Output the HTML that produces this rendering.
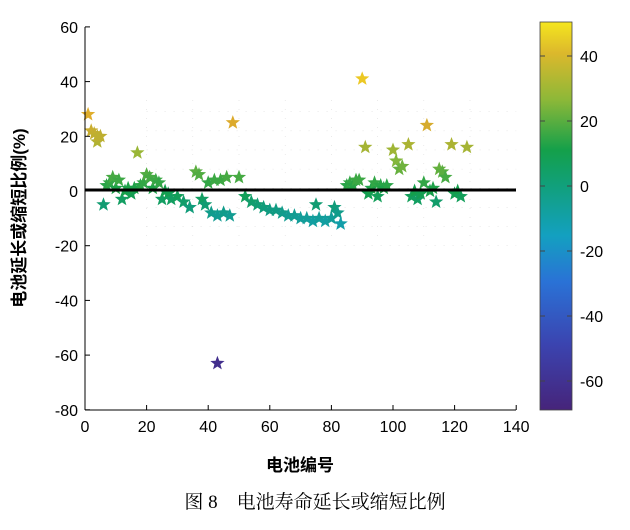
<!DOCTYPE html>
<html><head><meta charset="utf-8"><style>
body{margin:0;background:#fff;width:630px;height:525px;overflow:hidden}
</style></head><body>
<svg id="s" width="630" height="525" xmlns="http://www.w3.org/2000/svg" font-family="Liberation Sans, Noto Sans CJK SC, sans-serif">
<defs>
<linearGradient id="cb" x1="0" y1="1" x2="0" y2="0">
<stop offset="0" stop-color="#46247a"/>
<stop offset="0.17" stop-color="#3b44b0"/>
<stop offset="0.33" stop-color="#2a72d6"/>
<stop offset="0.45" stop-color="#13a0c0"/>
<stop offset="0.58" stop-color="#11a07a"/>
<stop offset="0.67" stop-color="#14a04a"/>
<stop offset="0.8" stop-color="#8db838"/>
<stop offset="0.92" stop-color="#dcb82c"/>
<stop offset="1" stop-color="#f5e61e"/>
</linearGradient>
</defs>
<g id="grid" stroke="#ddd" stroke-width="0.6" stroke-dasharray="1 8"></g>
<g id="stars"></g>
<line x1="85" y1="190" x2="516" y2="190" stroke="#000" stroke-width="3"/>
<line x1="85" y1="27" x2="85" y2="410" stroke="#000" stroke-width="1"/>
<line x1="85" y1="410" x2="516" y2="410" stroke="#000" stroke-width="1"/>
<g id="ticks" font-size="16" fill="#000"></g>
<rect x="540" y="22" width="32" height="388" fill="url(#cb)" stroke="#444" stroke-width="0.8"/>
<g id="cbt" font-size="16"></g>
<text x="300" y="471" font-size="17" text-anchor="middle" font-weight="bold">电池编号</text>
<text transform="translate(25,218) rotate(-90)" font-size="17" text-anchor="middle" font-weight="bold">电池延长或缩短比例(%)</text>
<text x="315" y="508" font-size="19" text-anchor="middle" font-family="Liberation Serif, Noto Serif CJK SC, serif">图 8　电池寿命延长或缩短比例</text>
</svg>
<script>
const X=v=>85+v*3.08, Y=v=>191-v*2.735;
const ns="http://www.w3.org/2000/svg";
function el(t,a,p,txt){const e=document.createElementNS(ns,t);for(const k in a)e.setAttribute(k,a[k]);if(txt!=null)e.textContent=txt;document.getElementById(p).appendChild(e);}
for(let v=0;v<=140;v+=20){el('line',{x1:X(v),y1:410,x2:X(v),y2:405,stroke:'#000'},'ticks');el('text',{x:X(v),y:432,'text-anchor':'middle'},'ticks',v);}
for(let v=-80;v<=60;v+=20){el('line',{x1:85,y1:Y(v),x2:90,y2:Y(v),stroke:'#000'},'ticks');el('text',{x:78,y:Y(v)+6,'text-anchor':'end'},'ticks',v);}
for(let v=-60;v<=40;v+=20){const y=186-v*3.25;el('line',{x1:540,y1:y,x2:545,y2:y,stroke:'#444'},'cbt');el('line',{x1:567,y1:y,x2:572,y2:y,stroke:'#444'},'cbt');el('text',{x:580,y:y+6},'cbt',v);}
for(let v=20;v<=130;v+=15){el('line',{x1:X(v),y1:100,x2:X(v),y2:240},'grid');}
for(let v=-20;v<=30;v+=7){el('line',{x1:X(20),y1:Y(v),x2:X(140),y2:Y(v)},'grid');}
const stops=[[-70,[70,36,122]],[-50,[59,68,176]],[-30,[42,114,214]],[-15,[19,160,192]],[-7,[17,155,130]],[0,[20,160,74]],[12,[141,184,56]],[25,[220,170,44]],[35,[230,180,40]],[50,[245,230,30]]];
function col(v){for(let i=0;i<stops.length-1;i++){const[a,ca]=stops[i],[b,cb]=stops[i+1];if(v<=b){const t=Math.max(0,(v-a)/(b-a));return 'rgb('+ca.map((c,j)=>Math.round(c+(cb[j]-c)*t)).join(',')+')';}}return 'rgb(245,230,30)';}
const pts=[[1,28],[2,22],[3,21],[4,18],[4,20],[5,20],[6,-5],[7,2],[8,3],[9,5],[10,1],[11,4],[12,-3],[13,0],[14,1],[15,-1],[16,1],[17,14],[18,2],[19,3],[20,6],[21,5],[22,1],[23,4],[24,3],[25,-3],[26,0],[27,-1],[28,-3],[30,-2],[32,-4],[34,-6],[36,7],[37,6],[38,-3],[39,-5],[40,3],[41,-8],[42,4],[43,-9],[44,4],[45,-8],[46,5],[47,-9],[48,25],[50,5],[52,-2],[54,-4],[56,-5],[58,-6],[60,-7],[62,-7],[64,-8],[66,-9],[68,-9],[70,-10],[72,-10],[74,-11],[75,-5],[76,-10],[78,-11],[80,-10],[81,-6],[82,-8],[83,-12],[43,-63],[85,2],[86,3],[87,2],[88,4],[89,4],[90,41],[91,16],[92,-1],[93,1],[94,3],[95,-2],[96,2],[97,1],[98,2],[100,15],[101,11],[102,8],[103,9],[105,17],[106,-2],[107,0],[108,-3],[109,-1],[110,3],[111,24],[112,0],[113,1],[114,-4],[115,8],[116,7],[117,5],[119,17],[120,-1],[121,0],[122,-2],[124,16]];
function star(cx,cy,r){let p=[];for(let i=0;i<10;i++){const a=-Math.PI/2+i*Math.PI/5,rr=i%2?r*0.42:r;p.push((cx+rr*Math.cos(a)).toFixed(1)+','+(cy+rr*Math.sin(a)).toFixed(1));}return p.join(' ');}
pts.forEach(([x,y])=>el('polygon',{points:star(X(x),Y(y),7.5),fill:col(y)},'stars'));
</script>
</body></html>
